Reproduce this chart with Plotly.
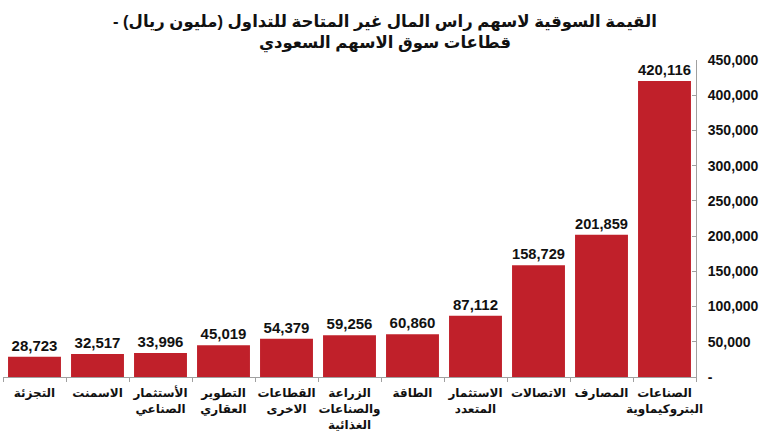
import plotly.graph_objects as go

categories = [
    "التجزئة",
    "الاسمنت",
    "الأستثمار<br>الصناعي",
    "التطوير<br>العقاري",
    "القطاعات<br>الاخرى",
    "الزراعة<br>والصناعات<br>الغذائية",
    "الطاقة",
    "الاستثمار<br>المتعدد",
    "الاتصالات",
    "المصارف",
    "الصناعات<br>البتروكيماوية",
]
values = [28723, 32517, 33996, 45019, 54379, 59256, 60860, 87112, 158729, 201859, 420116]
tick_vals = [0, 50000, 100000, 150000, 200000, 250000, 300000, 350000, 400000, 450000]
tick_text = ["-", "50,000", "100,000", "150,000", "200,000", "250,000", "300,000", "350,000", "400,000", "450,000"]
title_text = "\u200fالقيمة السوقية لاسهم راس المال غير المتاحة للتداول (مليون ريال) -\u200f<br>قطاعات سوق الاسهم السعودي"

FONT = "Arial, 'Liberation Sans', 'DejaVu Sans', sans-serif"

fig = go.Figure(go.Bar(
    x=categories,
    y=values,
    marker=dict(color="#C0202A", line=dict(width=0)),
    text=[f"{v:,}" for v in values],
    textposition="outside",
    textfont=dict(family=FONT, size=15, color="#111111", weight="bold"),
    cliponaxis=False,
))

fig.update_layout(
    width=770, height=443,
    margin=dict(l=3, r=74, t=60, b=66),
    paper_bgcolor="white", plot_bgcolor="white",
    bargap=0.16,
    showlegend=False,
    font=dict(family=FONT, color="#111111"),
    annotations=[dict(
        text=title_text, xref="paper", yref="paper",
        x=(385 - 3) / 693, y=1 + (60 - 10) / 317, xanchor="center", yanchor="top",
        showarrow=False, align="center",
        font=dict(family=FONT, size=16.5, color="#111111", weight="bold"),
    )],
)

fig.update_xaxes(
    type="category",
    showline=True, linecolor="#A0A0A0", linewidth=1,
    ticks="outside", ticklen=4, tickcolor="#A0A0A0",
    tickson="boundaries", tickangle=0,
    tickfont=dict(family=FONT, size=12, color="#111111", weight="bold"),
    showgrid=False,
    ticklabelstandoff=5,
)
fig.update_yaxes(
    side="right",
    range=[0, 450000],
    tickvals=tick_vals, ticktext=tick_text,
    showline=True, linecolor="#A0A0A0", linewidth=1,
    ticks="inside", ticklen=4, tickcolor="#A0A0A0",
    tickfont=dict(family=FONT, size=14, color="#111111", weight="bold"),
    showgrid=False, zeroline=False,
    ticklabelstandoff=8,
)

fig.write_html("out.html")
